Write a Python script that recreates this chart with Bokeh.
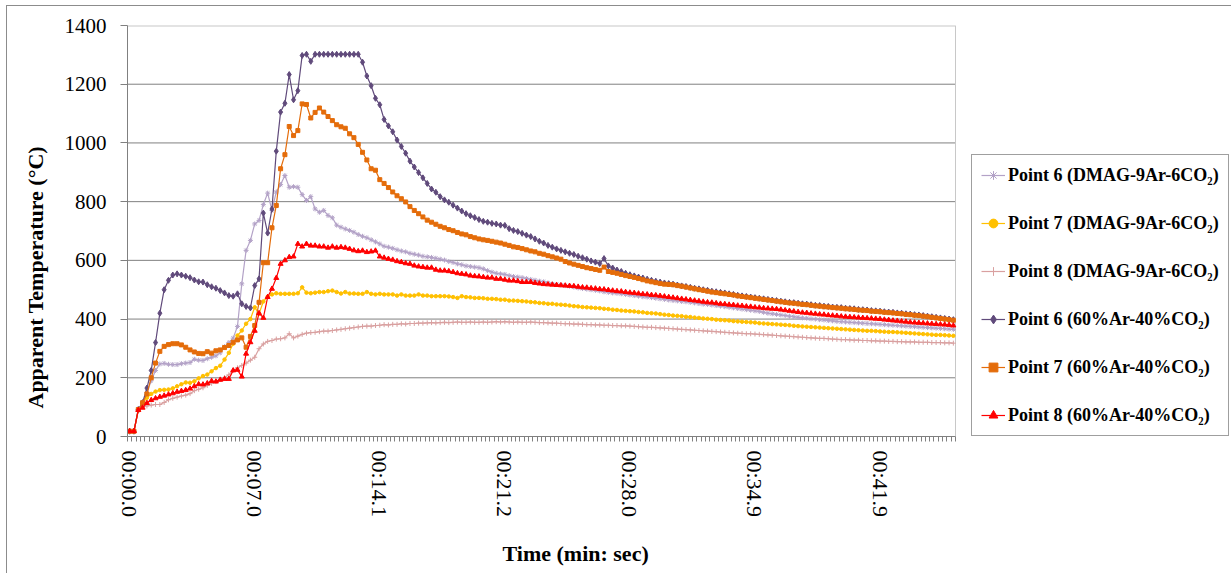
from bokeh.plotting import figure
from bokeh.models import Range1d, FixedTicker, Legend, LegendItem, Title, ColumnDataSource
from bokeh.embed import file_html
from bokeh.resources import INLINE

# ---------------- data ----------------
n_frames = 192
tick_idx = [0, 29, 58, 87, 116, 145, 174]
tick_labels = ["00:00.0", "00:07.0", "00:14.1", "00:21.2", "00:28.0", "00:34.9", "00:41.9"]
y_ticks = [0, 200, 400, 600, 800, 1000, 1200, 1400]

series_names = [
    "Point 6 (DMAG-9Ar-6CO\u2082)",
    "Point 7 (DMAG-9Ar-6CO\u2082)",
    "Point 8 (DMAG-9Ar-6CO\u2082)",
    "Point 6 (60%Ar-40%CO\u2082)",
    "Point 7 (60%Ar-40%CO\u2082)",
    "Point 8 (60%Ar-40%CO\u2082)",
]

p6_dmag = [
    18, 18, 90, 118, 150, 190, 225, 247, 249, 246,
    245, 245, 248, 250, 252, 263, 260, 259, 265, 270,
    275, 285, 306, 320, 335, 375, 520, 634, 668, 724,
    736, 790, 829, 770, 833, 858, 889, 849, 851, 849,
    824, 804, 817, 775, 764, 770, 753, 745, 720, 713,
    707, 702, 696, 688, 682, 677, 670, 663, 656, 648,
    645, 641, 636, 632, 629, 624, 621, 618, 614, 612,
    610, 607, 604, 601, 596, 593, 588, 585, 581, 579,
    577, 575, 571, 565, 560, 556, 554, 552, 548, 545,
    543, 541, 538, 535, 532, 529, 527, 523, 520, 518,
    516, 514, 512, 509, 506, 504, 502, 500, 498, 496,
    493, 491, 489, 488, 486, 484, 482, 480, 478, 476,
    475, 473, 471, 469, 467, 465, 463, 462, 460, 459,
    457, 455, 453, 451, 450, 448, 446, 444, 442, 440,
    438, 436, 434, 432, 430, 428, 426, 423, 420, 418,
    416, 414, 412, 410, 408, 406, 404, 403, 401, 400,
    398, 397, 395, 394, 392, 391, 390, 389, 388, 387,
    386, 385, 384, 383, 382, 381, 380, 379, 378, 377,
    376, 375, 374, 373, 372, 371, 370, 369, 368, 367,
    366, 365,
]

p7_dmag = [
    18, 18, 88, 112, 132, 145, 153, 158, 159, 160,
    164, 171, 178, 184, 183, 188, 198, 206, 211, 222,
    233, 241, 262, 285, 316, 344, 361, 384, 400, 440,
    418, 460, 476, 484, 488, 486, 486, 486, 486, 488,
    508, 490, 488, 490, 492, 492, 495, 497, 492, 487,
    492, 487, 487, 486, 486, 492, 486, 484, 486, 484,
    484, 484, 480, 484, 480, 480, 480, 484, 480, 480,
    478, 478, 478, 478, 477, 475, 472, 478, 475, 474,
    472, 472, 471, 469, 469, 468, 466, 466, 463, 463,
    462, 461, 460, 458, 457, 455, 454, 452, 452, 450,
    449, 448, 446, 444, 443, 441, 440, 439, 438, 437,
    435, 434, 432, 431, 429, 428, 427, 426, 424, 423,
    421, 420, 419, 417, 415, 414, 412, 411, 410, 408,
    407, 405, 404, 402, 401, 400, 398, 397, 396, 395,
    393, 392, 391, 390, 389, 388, 386, 385, 384, 383,
    382, 381, 380, 379, 377, 376, 375, 374, 373, 372,
    371, 370, 369, 368, 367, 366, 365, 364, 363, 362,
    361, 360, 360, 359, 358, 357, 356, 356, 355, 354,
    353, 352, 351, 350, 349, 348, 347, 346, 346, 345,
    344, 343,
]

p8_dmag = [
    18, 18, 88, 101, 104, 107, 109, 109, 116, 125,
    130, 134, 138, 141, 146, 156, 161, 166, 174, 181,
    187, 195, 201, 210, 225, 234, 242, 250, 260, 270,
    299, 315, 324, 327, 332, 333, 336, 350, 336, 342,
    348, 352, 354, 355, 357, 359, 359, 361, 363, 365,
    367, 369, 371, 373, 375, 376, 376, 378, 379, 381,
    380, 382, 382, 384, 383, 385, 385, 386, 386, 387,
    388, 387, 388, 389, 388, 389, 390, 389, 389, 390,
    389, 389, 390, 389, 390, 391, 390, 391, 390, 389,
    390, 389, 389, 390, 389, 388, 388, 387, 386, 386,
    385, 384, 384, 383, 383, 382, 381, 381, 380, 380,
    379, 379, 378, 378, 377, 377, 376, 375, 374, 373,
    372, 372, 371, 370, 369, 368, 367, 366, 365, 364,
    363, 362, 361, 360, 359, 358, 357, 356, 355, 354,
    353, 352, 351, 350, 350, 349, 348, 347, 346, 345,
    344, 343, 342, 341, 340, 339, 338, 337, 336, 335,
    334, 334, 333, 332, 331, 330, 330, 329, 328, 328,
    327, 327, 326, 326, 325, 325, 324, 324, 323, 323,
    322, 322, 322, 321, 321, 321, 320, 320, 320, 319,
    319, 318,
]

p6_co2 = [
    18, 18, 92, 115, 165, 225, 320, 420, 500, 532,
    550, 554, 550, 546, 541, 533, 527, 526, 517, 510,
    505, 497, 489, 480, 478, 486, 452, 443, 438, 514,
    537, 761, 693, 775, 972, 1105, 1135, 1233, 1147, 1178,
    1298, 1302, 1278, 1302, 1302, 1302, 1302, 1302, 1302, 1302,
    1302, 1302, 1302, 1302, 1275, 1228, 1195, 1152, 1130, 1080,
    1058, 1038, 1010, 988, 965, 938, 918, 899, 881, 862,
    843, 832, 817, 806, 798, 788, 778, 768, 759, 752,
    746, 739, 733, 730, 726, 724, 720, 719, 708, 702,
    698, 692, 686, 681, 673, 665, 659, 651, 645, 639,
    634, 629, 624, 620, 614, 609, 604, 598, 594, 589,
    606, 581, 574, 567, 562, 556, 551, 547, 543, 540,
    536, 532, 529, 526, 523, 521, 519, 516, 513, 511,
    508, 505, 503, 500, 498, 495, 493, 491, 489, 486,
    484, 481, 479, 477, 475, 473, 471, 469, 467, 465,
    463, 461, 459, 457, 456, 454, 452, 451, 449, 447,
    446, 444, 443, 441, 440, 439, 437, 436, 435, 433,
    432, 431, 429, 428, 427, 425, 424, 423, 421, 420,
    418, 417, 415, 414, 412, 410, 408, 406, 404, 402,
    400, 398,
]

p7_co2 = [
    18, 18, 92, 115, 145, 200, 250, 290, 307, 313,
    316, 316, 312, 304, 295, 288, 283, 282, 289, 284,
    292, 295, 303, 310, 321, 329, 336, 304, 341, 378,
    457, 592, 592, 711, 787, 912, 960, 1056, 1025, 1042,
    1133, 1131, 1085, 1104, 1119, 1105, 1090, 1076, 1062, 1055,
    1050, 1031, 1018, 995, 968, 942, 912, 907, 875, 862,
    848, 833, 820, 810, 799, 783, 770, 759, 748, 737,
    730, 723, 716, 711, 705, 701, 695, 690, 687, 681,
    677, 673, 670, 668, 665, 662, 659, 655, 651, 646,
    644, 640, 636, 632, 629, 624, 621, 616, 612, 608,
    604, 596, 591, 587, 583, 579, 575, 572, 569, 566,
    577, 562, 559, 556, 552, 548, 545, 542, 538, 534,
    530, 527, 524, 521, 519, 518, 517, 514, 512, 509,
    506, 503, 500, 498, 495, 492, 490, 488, 486, 484,
    482, 479, 477, 475, 473, 471, 469, 467, 465, 463,
    461, 459, 457, 455, 454, 452, 450, 449, 447, 445,
    444, 442, 441, 439, 438, 437, 435, 434, 433, 431,
    430, 429, 427, 426, 425, 423, 422, 421, 419, 418,
    416, 415, 413, 412, 410, 408, 406, 404, 402, 400,
    398, 396,
]

p8_co2 = [
    18, 18, 90, 98, 114, 124, 130, 135, 139, 143,
    147, 152, 155, 158, 163, 171, 178, 177, 181, 189,
    187, 193, 196, 196, 225, 227, 204, 282, 321, 360,
    420, 404, 475, 503, 540, 588, 600, 611, 613, 656,
    647, 656, 650, 650, 647, 647, 643, 647, 643, 645,
    643, 639, 634, 631, 633, 628, 630, 633, 613, 609,
    605, 602, 597, 594, 590, 588, 582, 579, 577, 575,
    575, 568, 565, 565, 563, 560, 556, 554, 552, 548,
    546, 545, 543, 541, 541, 537, 537, 534, 531, 531,
    529, 526, 526, 526, 523, 521, 519, 518, 517, 516,
    515, 514, 513, 512, 510, 508, 507, 505, 504, 502,
    501, 499, 497, 495, 494, 492, 490, 489, 487, 485,
    484, 482, 481, 479, 477, 475, 473, 471, 469, 467,
    465, 463, 461, 459, 457, 456, 454, 452, 451, 449,
    448, 446, 445, 443, 442, 440, 439, 437, 436, 435,
    434, 432, 430, 428, 426, 424, 422, 421, 419, 418,
    416, 415, 413, 412, 411, 409, 408, 407, 406, 405,
    404, 403, 402, 401, 400, 398, 397, 395, 394, 392,
    391, 389, 388, 387, 386, 385, 384, 383, 382, 381,
    380, 378,
]

all_series = [p6_dmag, p7_dmag, p8_dmag, p6_co2, p7_co2, p8_co2]
colors = ["#B3A2C7", "#FFC000", "#D9A0A0", "#604A7B", "#E46C0A", "#FF0000"]
markers = ["asterisk", "circle", "cross", "diamond", "square", "triangle"]
msizes = [5, 3.5, 5, 6, 4, 5]

SERIF = "Liberation Serif"

# The frame spans the whole width to the right edge; the data area (plot box)
# occupies the first 828 px, the rest hosts the legend (kept inside the frame).
PLOT_PX = 828
FRAME_PX = 1104
x_lo = -0.5
x_hi_data = n_frames - 0.5
x_hi_frame = x_lo + (x_hi_data - x_lo) * FRAME_PX / PLOT_PX

p = figure(frame_width=FRAME_PX, frame_height=411, output_backend="svg",
           toolbar_location=None,
           x_range=Range1d(x_lo, x_hi_frame), y_range=Range1d(0, 1400),
           min_border_left=118, min_border_right=0, min_border_top=19,
           min_border_bottom=136, background_fill_color="white",
           border_fill_color="white")
p.outline_line_color = None
p.styles = {"margin-left": "6px", "margin-top": "5px",
            "border-left": "1px solid #8c8c8c", "border-top": "1px solid #8c8c8c",
            "border-right": "1px solid #8c8c8c"}

# gridlines and plot-box border limited to the plot area
p.xgrid.visible = False
p.ygrid.visible = False
grid_levels = y_ticks[1:-1]
p.segment(x0=[x_lo] * len(grid_levels), x1=[x_hi_data] * len(grid_levels),
          y0=grid_levels, y1=grid_levels, line_color="#808080", line_width=1)
p.segment(x0=[x_lo, x_hi_data], x1=[x_hi_data, x_hi_data],
          y0=[y_ticks[-1], y_ticks[0]], y1=[y_ticks[-1], y_ticks[-1]],
          line_color="#c8c8c8", line_width=[2, 1])

# x axis (category-like)
p.xaxis.bounds = (x_lo, x_hi_data)
p.xaxis.ticker = FixedTicker(ticks=tick_idx,
                             minor_ticks=[i - 0.5 for i in range(n_frames + 1)])
p.xaxis.major_label_overrides = {t: lab for t, lab in zip(tick_idx, tick_labels)}
p.xaxis.major_label_orientation = "vertical"
p.xaxis.major_tick_line_color = None
p.xaxis.major_tick_out = 0
p.xaxis.major_tick_in = 0
p.xaxis.minor_tick_out = 5
p.xaxis.minor_tick_in = 0
p.xaxis.minor_tick_line_color = "#808080"
p.xaxis.axis_line_color = "#808080"
p.xaxis.major_label_standoff = 9
p.xaxis.major_label_text_font = SERIF
p.xaxis.major_label_text_font_size = "22px"
p.xaxis.major_label_text_color = "black"

# y axis
p.yaxis.ticker = FixedTicker(ticks=y_ticks)
p.yaxis.major_tick_out = 7
p.yaxis.major_tick_in = 0
p.yaxis.minor_tick_line_color = None
p.yaxis.major_tick_line_color = "#808080"
p.yaxis.axis_line_color = "#808080"
p.yaxis.major_label_standoff = 14
p.yaxis.major_label_text_font = SERIF
p.yaxis.major_label_text_font_size = "21px"
p.yaxis.major_label_text_color = "black"

# axis titles
yt = Title(text="Apparent Temperature (\u00b0C)", align="left", offset=28,
           text_font=SERIF, text_font_style="bold", text_font_size="22px",
           text_color="black", standoff=27)
p.add_layout(yt, "left")

xt = Title(text="Time (min: sec)", align="left", offset=375,
           text_font=SERIF, text_font_style="bold", text_font_size="22px",
           text_color="black", standoff=36)
p.add_layout(xt, "below")

# series
items = []
for name, vals, col, mk, ms in zip(series_names, all_series, colors, markers, msizes):
    src = ColumnDataSource(dict(x=list(range(len(vals))), y=vals))
    lr = p.line("x", "y", source=src, line_color=col, line_width=1.2)
    sr = p.scatter("x", "y", source=src, marker=mk, size=ms,
                   line_color=col, fill_color=col)
    items.append(LegendItem(label=name, renderers=[lr, sr]))

legend = Legend(items=items, location=(PLOT_PX + 16, 0), orientation="vertical",
                label_text_font=SERIF, label_text_font_style="bold",
                label_text_font_size="18px", label_text_color="black",
                glyph_width=24, glyph_height=22, label_height=22,
                label_standoff=3, spacing=26, padding=9, margin=0,
                border_line_color="#404040", border_line_width=1,
                background_fill_color="white", background_fill_alpha=1.0)
p.add_layout(legend)

open("out.html", "w").write(file_html(p, INLINE))
